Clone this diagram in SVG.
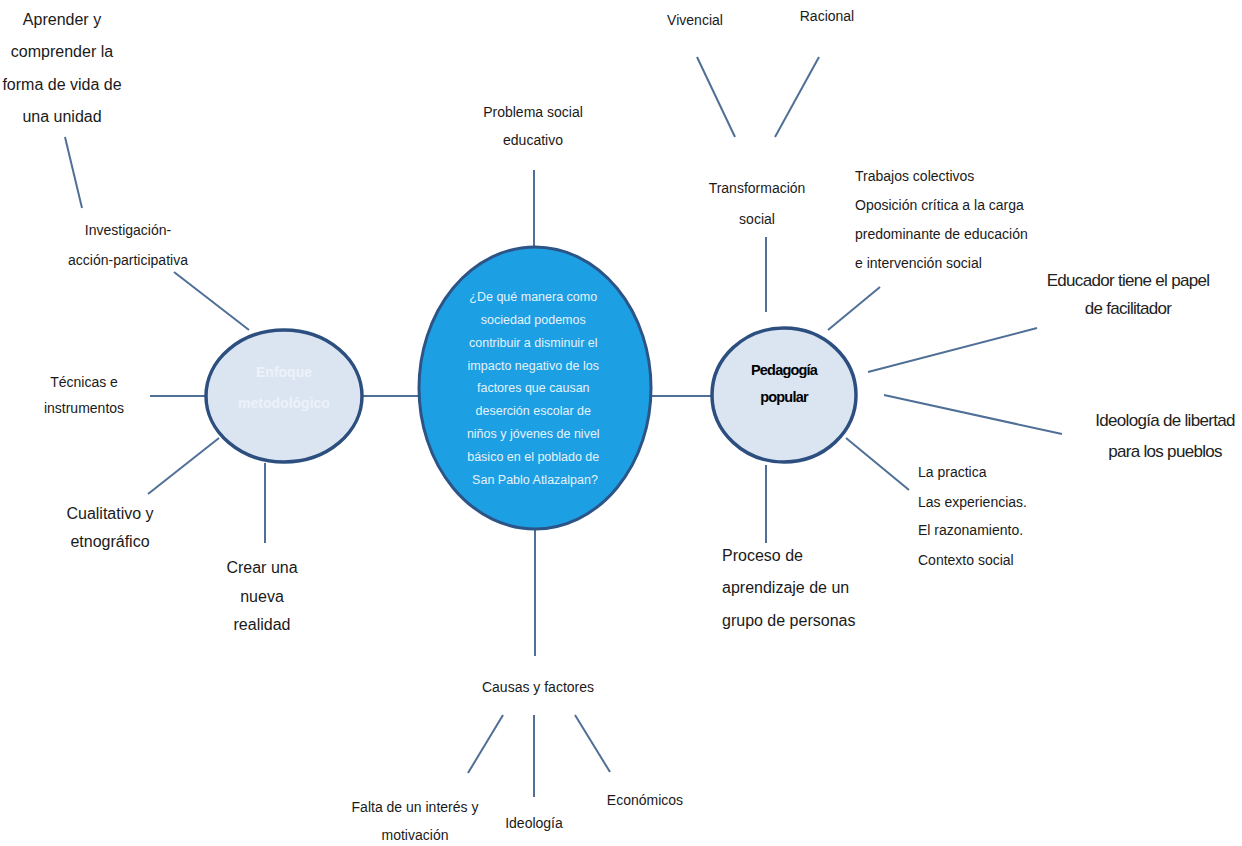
<svg xmlns="http://www.w3.org/2000/svg" width="1242" height="846" viewBox="0 0 1242 846">
<style>
.c{stroke:#4f6f96;stroke-width:2;fill:none}
.t{font-family:"Liberation Sans",Arial,sans-serif;fill:#1a1a1a;text-anchor:middle}
.s{font-size:14px}
.m{font-size:16px}
.a{font-family:"Liberation Sans",Arial,sans-serif;fill:#222;font-size:17px;letter-spacing:-0.7px;text-anchor:middle}
.l{text-anchor:start}
</style>
<rect width="1242" height="846" fill="#ffffff"/>
<g id="connectors">
<line class="c" x1="65" y1="137" x2="82" y2="208"/>
<line class="c" x1="174" y1="272" x2="249" y2="330"/>
<line class="c" x1="150" y1="396" x2="206" y2="396"/>
<line class="c" x1="148" y1="494" x2="219" y2="438"/>
<line class="c" x1="265" y1="463" x2="265" y2="543"/>
<line class="c" x1="362" y1="396" x2="419" y2="396"/>
<line class="c" x1="534" y1="170" x2="534" y2="248"/>
<line class="c" x1="535" y1="530" x2="535" y2="656"/>
<line class="c" x1="503" y1="715" x2="468" y2="773"/>
<line class="c" x1="534" y1="715" x2="534" y2="797"/>
<line class="c" x1="575" y1="715" x2="610" y2="772"/>
<line class="c" x1="651" y1="396" x2="712" y2="396"/>
<line class="c" x1="766" y1="312" x2="766" y2="237"/>
<line class="c" x1="697" y1="57" x2="735" y2="137"/>
<line class="c" x1="819" y1="57" x2="775" y2="137"/>
<line class="c" x1="828" y1="330" x2="880" y2="287"/>
<line class="c" x1="868" y1="372" x2="1037" y2="328"/>
<line class="c" x1="884" y1="395" x2="1062" y2="434"/>
<line class="c" x1="846" y1="438" x2="909" y2="490"/>
<line class="c" x1="766" y1="465" x2="766" y2="543"/>
</g>
<g id="center">
<ellipse cx="535" cy="388" rx="116" ry="141" fill="#1c9fe3" stroke="#2d5486" stroke-width="3"/>
<text font-family="Liberation Sans,Arial,sans-serif" font-size="12.5" fill="#e6f2fb" text-anchor="middle">
<tspan x="535" y="301">¿De qué manera como</tspan>
<tspan x="535" y="324">sociedad podemos</tspan>
<tspan x="535" y="347">contribuir a disminuir el</tspan>
<tspan x="535" y="370">impacto negativo de los</tspan>
<tspan x="535" y="392">factores que causan</tspan>
<tspan x="535" y="415">deserción escolar de</tspan>
<tspan x="535" y="438">niños y jóvenes de nivel</tspan>
<tspan x="535" y="461">básico en el poblado de</tspan>
<tspan x="535" y="484">San Pablo Atlazalpan?</tspan>
</text>
</g>
<g id="enfoque">
<ellipse cx="284" cy="396" rx="78" ry="66" fill="#dbe5f1" stroke="#2d4f80" stroke-width="3.5"/>
<text class="t" font-size="14" font-weight="bold" style="fill:#edf2f9"><tspan x="284" y="377">Enfoque</tspan><tspan x="284" y="408">metodológico</tspan></text>
</g>
<g id="pedagogia">
<ellipse cx="784" cy="395" rx="72" ry="67" fill="#dbe5f1" stroke="#2d4f80" stroke-width="3.5"/>
<text class="t" font-size="14.5" font-weight="bold" letter-spacing="-0.8" style="fill:#000"><tspan x="784" y="375">Pedagogía</tspan><tspan x="784" y="402">popular</tspan></text>
</g>
<g id="aprender">
<text class="t m"><tspan x="62" y="25">Aprender y</tspan><tspan x="62" y="57">comprender la</tspan><tspan x="62" y="90">forma de vida de</tspan><tspan x="62" y="122">una unidad</tspan></text>
</g>
<g id="investigacion">
<text class="t s"><tspan x="128" y="235">Investigación-</tspan><tspan x="128" y="265">acción-participativa</tspan></text>
</g>
<g id="tecnicas">
<text class="t s"><tspan x="84" y="387">Técnicas e</tspan><tspan x="84" y="413">instrumentos</tspan></text>
</g>
<g id="cualitativo">
<text class="t m"><tspan x="110" y="519">Cualitativo y</tspan><tspan x="110" y="547">etnográfico</tspan></text>
</g>
<g id="crear">
<text class="t m"><tspan x="262" y="573">Crear una</tspan><tspan x="262" y="602">nueva</tspan><tspan x="262" y="630">realidad</tspan></text>
</g>
<g id="problema">
<text class="t s"><tspan x="533" y="117">Problema social</tspan><tspan x="533" y="145">educativo</tspan></text>
</g>
<g id="causas">
<text class="t s" x="538" y="692">Causas y factores</text>
</g>
<g id="falta">
<text class="t s"><tspan x="415" y="812">Falta de un interés y</tspan><tspan x="415" y="840">motivación</tspan></text>
</g>
<g id="ideologia">
<text class="t s" x="534" y="828">Ideología</text>
</g>
<g id="economicos">
<text class="t s" x="645" y="805">Económicos</text>
</g>
<g id="transformacion">
<text class="t s"><tspan x="757" y="193">Transformación</tspan><tspan x="757" y="224">social</tspan></text>
</g>
<g id="vivencial">
<text class="t s" x="695" y="25">Vivencial</text>
</g>
<g id="racional">
<text class="t s" x="827" y="21">Racional</text>
</g>
<g id="trabajos">
<text class="t s l"><tspan x="855" y="181">Trabajos colectivos</tspan><tspan x="855" y="210">Oposición crítica  a la carga</tspan><tspan x="855" y="239">predominante de educación</tspan><tspan x="855" y="268">e intervención social</tspan></text>
</g>
<g id="educador">
<text class="a"><tspan x="1128" y="286">Educador tiene el papel</tspan><tspan x="1128" y="314">de facilitador</tspan></text>
</g>
<g id="libertad">
<text class="a"><tspan x="1165" y="426">Ideología de libertad</tspan><tspan x="1165" y="457">para los pueblos</tspan></text>
</g>
<g id="practica">
<text class="t s l"><tspan x="918" y="477">La practica</tspan><tspan x="918" y="507">Las experiencias.</tspan><tspan x="918" y="535">El razonamiento.</tspan><tspan x="918" y="565">Contexto social</tspan></text>
</g>
<g id="proceso">
<text class="t m l"><tspan x="722" y="561">Proceso de</tspan><tspan x="722" y="593">aprendizaje de un</tspan><tspan x="722" y="626">grupo de personas</tspan></text>
</g>
</svg>
